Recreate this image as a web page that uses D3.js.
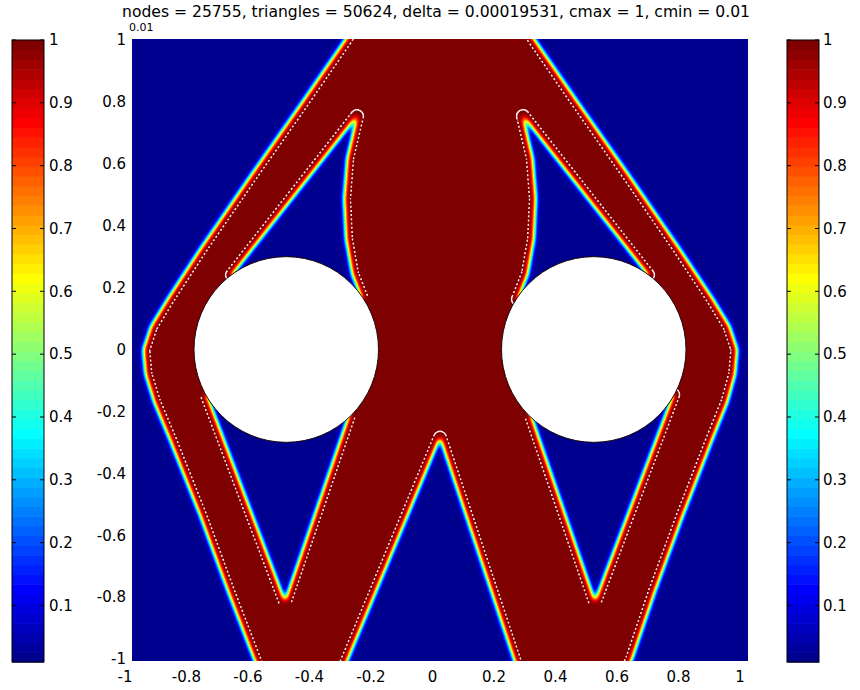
<!DOCTYPE html>
<html>
<head>
<meta charset="utf-8">
<script src="https://cdn.jsdelivr.net/npm/d3@7"></script>
<style>
  html, body { margin: 0; padding: 0; background: #fff; }
  svg text { font-family: "DejaVu Sans", "Liberation Sans", sans-serif; fill: #000; }
</style>
</head>
<body>
<svg id="chart" width="860" height="690"></svg>
<script>
// ---- Run parameters printed above the field ----
const titleText = "nodes = 25755, triangles = 50624, delta = 0.00019531, cmax = 1, cmin = 0.01";
const subTitleText = "0.01";

// ---- Axis and colour-bar ticks ----
const xTicks = [-1, -0.8, -0.6, -0.4, -0.2, 0, 0.2, 0.4, 0.6, 0.8, 1];
const yTicks = [-1, -0.8, -0.6, -0.4, -0.2, 0, 0.2, 0.4, 0.6, 0.8, 1];
const colorTicks = [0.1, 0.2, 0.3, 0.4, 0.5, 0.6, 0.7, 0.8, 0.9, 1];
const densityMin = 0.01;
const densityMax = 1;

// ---- Circular holes in the domain ----
const holeX = [-0.5, 0.5];
const holeY = [0, 0];
const holeR = [0.3, 0.3];

// ---- Solid material (density = cmax): outer boundary of the structure ----
const outline = [
  [-0.27, 1.06], [-0.309, 1.0], [-0.455, 0.79], [-0.618, 0.559], [-0.78, 0.325],
  [-0.885, 0.165], [-0.94, 0.075], [-0.965, 0.0], [-0.958, -0.08], [-0.93, -0.17],
  [-0.878, -0.293], [-0.78, -0.537], [-0.69, -0.78], [-0.605, -1.0], [-0.58, -1.06],
  [-0.324, -1.06], [-0.299, -1.0], [0, -0.285], [0.24, -1.0], [0.26, -1.06],
  [0.60, -1.06], [0.625, -1.0], [0.70, -0.78], [0.79, -0.537], [0.885, -0.293],
  [0.935, -0.17], [0.96, -0.08], [0.967, 0.0], [0.942, 0.075], [0.887, 0.165],
  [0.78, 0.325], [0.618, 0.559], [0.455, 0.79], [0.309, 1.0], [0.27, 1.06]
];

// ---- Voids (density = cmin) enclosed by the structure ----
const voidUpperLeft = [
  [-0.270, 0.754], [-0.676, 0.241], [-0.504, 0.0], [-0.254, 0.163],
  [-0.286, 0.244], [-0.306, 0.358], [-0.312, 0.488], [-0.302, 0.618]
];
const voidUpperRight = [
  [0.270, 0.754], [0.302, 0.618], [0.312, 0.488], [0.306, 0.358],
  [0.286, 0.244], [0.254, 0.163], [0.504, 0.0], [0.676, 0.241]
];
const voidLowerLeft = [
  [-0.504, -0.813], [-0.758, -0.146], [-0.502, 0.0], [-0.296, -0.211]
];
const voidLowerRight = [
  [0.504, -0.813], [0.296, -0.211], [0.502, 0.0], [0.758, -0.146]
];

// ---- MATLAB-style 64-entry jet colormap ----
function jet(m) {
  const n = Math.ceil(m / 4);
  const u = [];
  for (let i = 1; i <= n; i++) u.push(i / n);
  for (let i = 1; i < n; i++) u.push(1);
  for (let i = n; i >= 1; i--) u.push(i / n);
  const gStart = Math.ceil(n / 2) - (m % 4 === 1 ? 1 : 0);
  const map = d3.range(m).map(() => [0, 0, 0]);
  u.forEach((val, k) => {
    const g = gStart + k + 1, r = g + n, b = g - n;
    if (r >= 1 && r <= m) map[r - 1][0] = val;
    if (g >= 1 && g <= m) map[g - 1][1] = val;
    if (b >= 1 && b <= m) map[b - 1][2] = val;
  });
  return map;
}
const cmap = jet(64);
const cmapColor = c => d3.rgb(c[0] * 255, c[1] * 255, c[2] * 255).formatHex();

// ---- Layout ----
const svg = d3.select("#chart");
const plotBox = { x: 132, y: 39, w: 616, h: 622 };
const x = d3.scaleLinear().domain([-1, 1]).range([132.5, 747.5]);
const y = d3.scaleLinear().domain([-1, 1]).range([659, 40]);

const ring = d3.line().x(d => x(d[0])).y(d => y(d[1])).curve(d3.curveLinearClosed);
const solidPath = [outline, voidUpperLeft, voidUpperRight, voidLowerLeft, voidLowerRight]
  .map(p => ring(p)).join(" ");

const defs = svg.append("defs");
defs.append("clipPath").attr("id", "plotClip")
  .append("rect").attr("x", plotBox.x).attr("y", plotBox.y)
  .attr("width", plotBox.w).attr("height", plotBox.h);
defs.append("clipPath").attr("id", "solidClip")
  .append("path").attr("d", solidPath).attr("clip-rule", "evenodd");

// Density field: blurred material indicator recoloured through the jet table
const filt = defs.append("filter").attr("id", "jetField")
  .attr("filterUnits", "userSpaceOnUse")
  .attr("x", 90).attr("y", 0).attr("width", 700).attr("height", 690)
  .attr("color-interpolation-filters", "sRGB");
filt.append("feGaussianBlur").attr("in", "SourceGraphic").attr("stdDeviation", 2.8);
const ct = filt.append("feComponentTransfer");
["R", "G", "B"].forEach((ch, i) => {
  ct.append("feFunc" + ch).attr("type", "table")
    .attr("tableValues", cmap.map(c => c[i].toFixed(4)).join(" "));
});

const level = v => {
  const g = Math.round(255 * (v - densityMin) / (densityMax - densityMin));
  return d3.rgb(g, g, g).formatHex();
};

const fieldG = svg.append("g").attr("clip-path", "url(#plotClip)");
const srcG = fieldG.append("g").attr("filter", "url(#jetField)");
srcG.append("rect").attr("x", 100).attr("y", 10).attr("width", 680).attr("height", 680)
  .attr("fill", level(densityMin));
srcG.append("path").attr("d", solidPath).attr("fill", level(densityMax))
  .attr("fill-rule", "evenodd");

// Dotted iso-contour just inside the material boundary
const inset = 6.5, lineW = 1.7;
const mask = defs.append("mask").attr("id", "ringMask")
  .attr("maskUnits", "userSpaceOnUse").attr("x", 0).attr("y", 0)
  .attr("width", 860).attr("height", 690);
mask.append("path").attr("d", solidPath).attr("fill", "none")
  .attr("stroke", "#fff").attr("stroke-linejoin", "round")
  .attr("stroke-width", 2 * inset + lineW);
mask.append("path").attr("d", solidPath).attr("fill", "none")
  .attr("stroke", "#000").attr("stroke-linejoin", "round")
  .attr("stroke-width", 2 * inset - lineW);

fieldG.append("g").attr("clip-path", "url(#solidClip)")
  .append("path").attr("d", solidPath).attr("fill", "none")
  .attr("stroke", "#fff2f2").attr("stroke-opacity", 0.95)
  .attr("stroke-linejoin", "round")
  .attr("stroke-width", 2 * inset + lineW)
  .attr("stroke-dasharray", "2 2.2")
  .attr("mask", "url(#ringMask)");

// Holes
fieldG.selectAll("ellipse.hole").data(d3.range(holeX.length)).join("ellipse")
  .attr("class", "hole")
  .attr("cx", i => x(holeX[i])).attr("cy", i => y(holeY[i]))
  .attr("rx", i => x(holeR[i]) - x(0)).attr("ry", i => y(0) - y(holeR[i]))
  .attr("fill", "#fff").attr("stroke", "#1a0a0a").attr("stroke-width", 1);

// ---- Axes ----
const fmt = d => String(d);
const axX = svg.append("g").attr("transform", "translate(-8,671)")
  .call(d3.axisBottom(x).tickValues(xTicks).tickSize(0).tickPadding(0).tickFormat(fmt));
const axY = svg.append("g").attr("transform", "translate(126,0)")
  .call(d3.axisLeft(y).tickValues(yTicks).tickSize(0).tickPadding(0).tickFormat(fmt));
[axX, axY].forEach(a => {
  a.select(".domain").remove();
  a.attr("font-family", null).attr("font-size", null);
  a.selectAll("text").attr("font-size", 15).attr("fill", "#000");
});

// ---- Colour bars ----
const cScale = d3.scaleLinear().domain([densityMin, densityMax]).range([662, 40]);
const bands = d3.range(cmap.length);
const step = (densityMax - densityMin) / cmap.length;
[{ x0: 12, w: 32, lx: 49 }, { x0: 787, w: 32, lx: 823 }].forEach(cb => {
  const g = svg.append("g");
  g.selectAll("rect.band").data(bands).join("rect").attr("class", "band")
    .attr("x", cb.x0).attr("width", cb.w)
    .attr("y", i => cScale(densityMin + (i + 1) * step))
    .attr("height", i => cScale(densityMin + i * step) - cScale(densityMin + (i + 1) * step) + 0.6)
    .attr("fill", i => cmapColor(cmap[i]));
  g.append("rect").attr("x", cb.x0).attr("y", cScale(densityMax))
    .attr("width", cb.w).attr("height", cScale(densityMin) - cScale(densityMax))
    .attr("fill", "none").attr("stroke", "#000").attr("stroke-width", 1);
  g.selectAll("line.tl").data(colorTicks).join("line").attr("class", "tl")
    .attr("x1", cb.x0).attr("x2", cb.x0 + 4)
    .attr("y1", d => cScale(d)).attr("y2", d => cScale(d))
    .attr("stroke", "#000");
  g.selectAll("line.tr").data(colorTicks).join("line").attr("class", "tr")
    .attr("x1", cb.x0 + cb.w - 4).attr("x2", cb.x0 + cb.w)
    .attr("y1", d => cScale(d)).attr("y2", d => cScale(d))
    .attr("stroke", "#000");
  const ax = svg.append("g").attr("transform", `translate(${cb.lx},0)`)
    .call(d3.axisRight(cScale).tickValues(colorTicks).tickSize(0).tickPadding(0).tickFormat(fmt));
  ax.select(".domain").remove();
  ax.attr("font-family", null).attr("font-size", null);
  ax.selectAll("text").attr("font-size", 15).attr("fill", "#000");
});

// ---- Title ----
svg.append("text").attr("x", 436).attr("y", 16.5).attr("text-anchor", "middle")
  .attr("font-size", 15).attr("textLength", 628).attr("lengthAdjust", "spacingAndGlyphs")
  .text(titleText);
svg.append("text").attr("x", 129).attr("y", 31).attr("font-size", 11).text(subTitleText);
</script>
</body>
</html>
